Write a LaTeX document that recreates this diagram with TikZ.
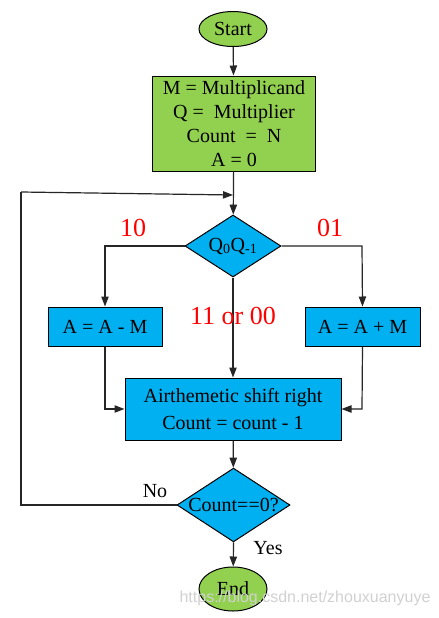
\documentclass[tikz,border=0pt]{standalone}
\usepackage{fontspec}
\setmainfont{Liberation Serif}
\newfontfamily\wmfont{Liberation Sans}
\usetikzlibrary{shapes.geometric,arrows.meta}
\definecolor{fcgreen}{HTML}{92D050}
\definecolor{fcblue}{HTML}{00B0F0}
\begin{document}
\begin{tikzpicture}[x=0.75pt,y=-0.75pt,
  every node/.style={font=\fontsize{15}{18}\selectfont, text=black},
  term/.style={ellipse, draw, fill=fcgreen, minimum width=68*0.75pt, minimum height=35*0.75pt, inner sep=0pt, line width=0.75pt},
  greenbox/.style={draw, fill=fcgreen, line width=0.75pt, inner sep=0pt},
  bluebox/.style={draw, fill=fcblue, line width=0.75pt, inner sep=0pt},
  decide/.style={diamond, draw, fill=fcblue, line width=0.75pt, inner sep=0pt, aspect=1.5},
  redlbl/.style={text=red, font=\fontsize{19.5}{22}\selectfont},
  conn/.style={draw=black!85, line width=0.9pt, -{Triangle[length=7.5pt,width=5.5pt]}},
  plain/.style={draw=black!85, line width=0.9pt}
]
\useasboundingbox (0,0) rectangle (439,618);
\fill[white] (0,0) rectangle (439,618);

\node[term] (start) at (233,29) {Start};
\node[greenbox, minimum width=163*0.75pt, minimum height=95*0.75pt, align=center,
  font=\fontsize{15}{18}\selectfont] (init) at (234,123.5)
  {M = Multiplicand\\[0pt]Q =\ \ Multiplier\\[0pt]Count\ \ =\ \ N\\[0pt]A = 0};
\node[decide, minimum width=96*0.75pt, minimum height=62*0.75pt] (q) at (233,246) {Q\textsubscript{0}Q\textsubscript{-1}};
\node[bluebox, minimum width=114*0.75pt, minimum height=39*0.75pt] (sub) at (105,326.5) {A = A - M};
\node[bluebox, minimum width=115*0.75pt, minimum height=39*0.75pt] (add) at (362.5,326.5) {A = A + M};
\node[bluebox, minimum width=216*0.75pt, minimum height=62*0.75pt, align=center] (shift) at (233,409)
  {Airthemetic shift right\\[2pt]Count = count - 1};
\node[decide, minimum width=113*0.75pt, minimum height=72*0.75pt] (cnt) at (233.5,505) {Count==0?};
\node[term, minimum height=44*0.75pt] (end) at (233,589) {End};

\coordinate (loopL1) at (21,505);
\coordinate (loopL2) at (21,192);
\coordinate (loopIn) at (233,195);
\coordinate (subTop) at (105,246);
\coordinate (addTop) at (362,246);
\coordinate (subBot) at (105,409);
\coordinate (addBot) at (362,409);

\draw[conn] (start) -- (init);
\draw[conn] (init) -- (q);
\draw[plain] (cnt.west) -- (loopL1) -- (loopL2);
\draw[conn] (loopL2) -- (loopIn);
\draw[conn] (q.west) -- (subTop) -- (sub.north);
\draw[conn] (q.east) -- (addTop) -- (add.north);
\draw[conn] (q.south) -- (shift.north);
\draw[conn] (sub.south) -- (subBot) -- (shift.west);
\draw[conn] (add.south) -- (addBot) -- (shift.east);
\draw[conn] (shift) -- (cnt);
\draw[conn] (cnt.south) -- (end);

\node[redlbl] (l10) at (133,228) {10};
\node[redlbl] (l01) at (330,228) {01};
\node[redlbl] (l11) at (233,316) {11 or 00};
\node (no) at (155,491) {No};
\node (yes) at (268,548) {Yes};

\node[text=black!18, font=\wmfont\fontsize{12}{14}\selectfont] (wm) at (305,598) {https://blog.csdn.net/zhouxuanyuye};
\end{tikzpicture}
\end{document}
